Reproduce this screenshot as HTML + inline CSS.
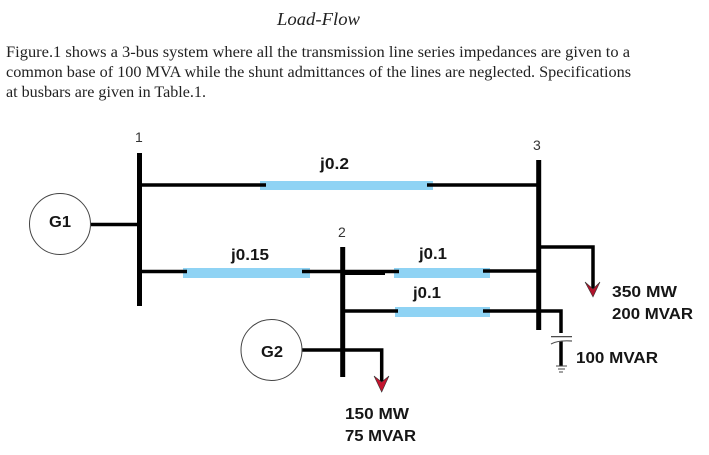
<!DOCTYPE html>
<html><head><meta charset="utf-8"><style>
html,body{margin:0;padding:0;background:#fff;width:709px;height:455px;overflow:hidden}
svg{display:block}
.s{font-family:"Liberation Serif",serif;fill:#222}
.b{font-family:"Liberation Sans",sans-serif;font-weight:bold;font-size:16px;fill:#161616}
.n{font-family:"Liberation Sans",sans-serif;font-size:14px;fill:#333}
</style></head><body>
<svg width="709" height="455" viewBox="0 0 709 455" xmlns="http://www.w3.org/2000/svg">
<text class="s" x="277" y="25" font-size="18" font-style="italic" textLength="83" lengthAdjust="spacingAndGlyphs">Load-Flow</text>
<text class="s" x="6" y="57" font-size="15.6" textLength="624" lengthAdjust="spacingAndGlyphs">Figure.1 shows a 3-bus system where all the transmission line series impedances are given to a</text>
<text class="s" x="6" y="77" font-size="15.6" textLength="625" lengthAdjust="spacingAndGlyphs">common base of 100 MVA while the shunt admittances of the lines are neglected. Specifications</text>
<text class="s" x="6" y="97" font-size="15.6" textLength="200" lengthAdjust="spacingAndGlyphs">at busbars are given in Table.1.</text>
<g fill="#8fd3f4">
<rect x="260" y="181" width="173" height="9"/>
<rect x="183" y="268" width="127" height="10"/>
<rect x="394" y="268" width="96" height="10"/>
<rect x="395" y="307" width="95" height="10"/>
</g>
<g stroke="#000" fill="none">
<g stroke-width="5">
<path d="M139.5 153V306M342.7 247V377M538.7 160V330"/>
</g>
<g stroke-width="3.5">
<path d="M137 185H266M427 185H539"/>
<path d="M91 224.500H139"/>
<path d="M137 271.500H187"/>
<path d="M302 271.500H399M483 271H539"/>
<path d="M343 311H398M483 311H561V333"/>
<path d="M302 350H381.700V383"/>
<path d="M539 247H593V289"/>
<path d="M561 341V366"/>
</g>
<path d="M343 273H385" stroke-width="4"/>
<path d="M551 336.700H572" stroke-width="1.200" stroke="#333"/>
<path d="M551 344Q558 340 572 341" stroke-width="1.200" stroke="#555"/>
<path d="M556 366H567M558 369H565M559 372H563" stroke-width="1" stroke="#444"/>
<circle cx="60" cy="224" r="30.500" stroke="#444" stroke-width="1"/>
<circle cx="271.500" cy="350" r="30.500" stroke="#444" stroke-width="1"/>
</g>
<path d="M585 282L593 297L600 282L593 289Z" fill="#b0142c" stroke="#333" stroke-width=".6"/>
<path d="M374 376L381.700 392L389 376L381.700 382Z" fill="#c3142e" stroke="#333" stroke-width=".6"/>
<text class="n" x="135" y="142">1</text>
<text class="n" x="338" y="237">2</text>
<text class="n" x="533" y="150">3</text>
<text class="b" x="49" y="227" textLength="22" lengthAdjust="spacingAndGlyphs">G1</text>
<text class="b" x="261" y="357" textLength="22" lengthAdjust="spacingAndGlyphs">G2</text>
<text class="b" x="320" y="169" textLength="29" lengthAdjust="spacingAndGlyphs">j0.2</text>
<text class="b" x="231" y="260" textLength="38" lengthAdjust="spacingAndGlyphs">j0.15</text>
<text class="b" x="419" y="259" textLength="28" lengthAdjust="spacingAndGlyphs">j0.1</text>
<text class="b" x="413" y="298" textLength="28" lengthAdjust="spacingAndGlyphs">j0.1</text>
<text class="b" x="612" y="297" textLength="65" lengthAdjust="spacingAndGlyphs">350 MW</text>
<text class="b" x="612" y="319" textLength="81" lengthAdjust="spacingAndGlyphs">200 MVAR</text>
<text class="b" x="576" y="363" textLength="82" lengthAdjust="spacingAndGlyphs">100 MVAR</text>
<text class="b" x="345" y="419" textLength="64" lengthAdjust="spacingAndGlyphs">150 MW</text>
<text class="b" x="345" y="441" textLength="71" lengthAdjust="spacingAndGlyphs">75 MVAR</text>
</svg>
</body></html>
